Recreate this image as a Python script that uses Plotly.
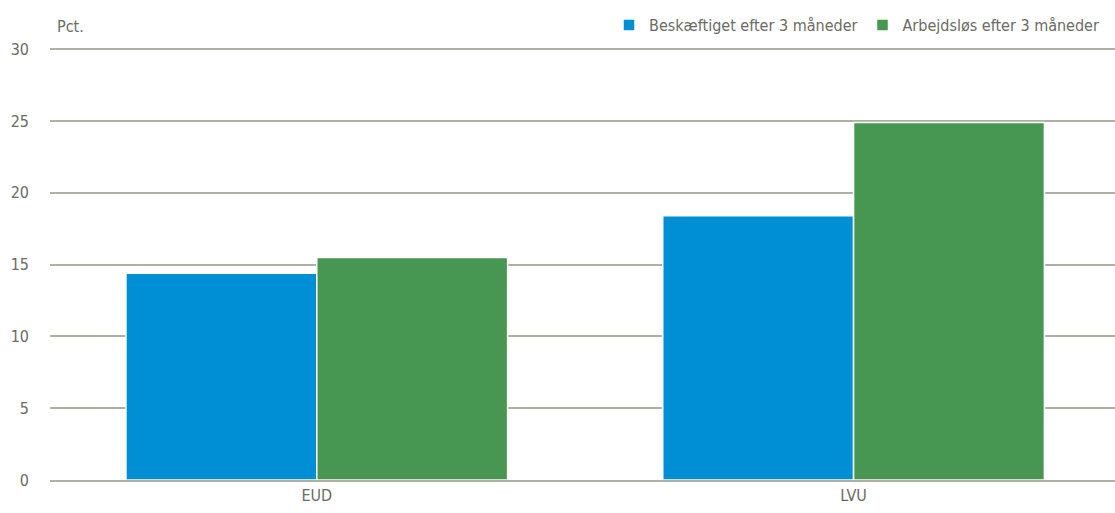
import plotly.graph_objects as go

categories = ["EUD", "LVU"]
series_names = ["Beskæftiget efter 3 måneder", "Arbejdsløs efter 3 måneder"]
beskaeftiget = [14.4, 18.4]
arbejdsloes = [15.5, 24.9]
colors = ["#008fd5", "#479753"]
y_ticks = [0, 5, 10, 15, 20, 25, 30]

FONT = "DejaVu Sans Condensed, Liberation Sans Narrow, sans-serif"
TXT = "#6b6b62"
FS = 16

fig = go.Figure()
for name, vals, col in zip(series_names, [beskaeftiget, arbejdsloes], colors):
    fig.add_trace(go.Bar(x=categories, y=vals, name=name, marker_color=col,
                         marker_line_color="white", marker_line_width=1.5))

fig.update_layout(
    width=1115, height=513,
    margin=dict(l=50, r=0, t=48, b=33, autoexpand=False),
    barmode="group", bargap=0.289, bargroupgap=0,
    plot_bgcolor="white", paper_bgcolor="white",
    font=dict(family=FONT, size=FS, color=TXT),
    legend=dict(orientation="h", x=1.0 - 11 / 1065, xanchor="right", y=1.0 + 6 / 432,
                yanchor="bottom", yref="paper",
                font=dict(family=FONT, size=FS, color=TXT),
                traceorder="normal", itemwidth=30),
    xaxis=dict(showline=True, linecolor="#b1afa1", linewidth=2, ticks="",
               range=[-0.497, 1.487],
               tickfont=dict(family=FONT, size=FS, color=TXT)),
    yaxis=dict(range=[0, 30.08], tickvals=y_ticks, showgrid=True, gridcolor="#b1afa1",
               gridwidth=2, zeroline=False, ticks="", ticklabelstandoff=20,
               tickfont=dict(family=FONT, size=FS, color=TXT)),
    annotations=[dict(text="Pct.", x=5 / 1065, xref="paper", y=1, yref="paper",
                      xanchor="left", yanchor="bottom", yshift=10, showarrow=False,
                      font=dict(family=FONT, size=FS, color=TXT))],
)
fig.write_html("out.html", config={"displayModeBar": False},
               post_script="document.body.style.margin='0';")
